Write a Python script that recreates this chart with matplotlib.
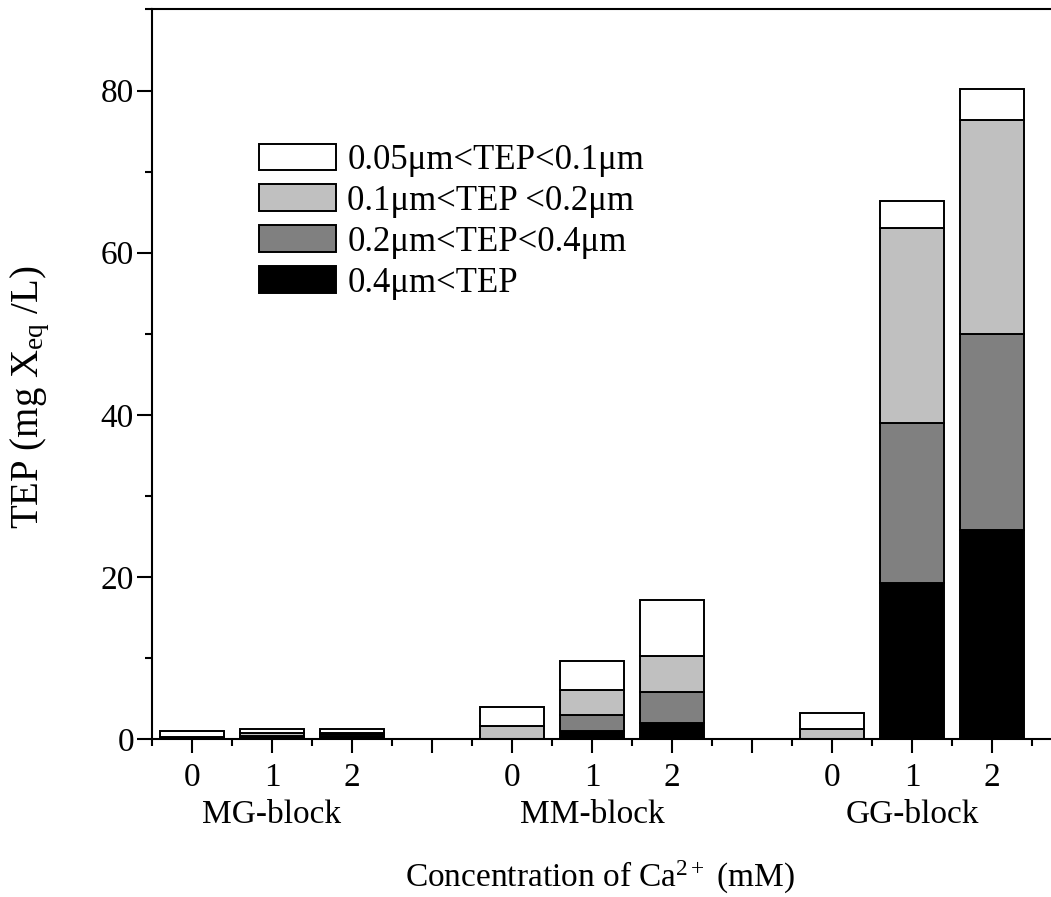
import numpy as np
import matplotlib
matplotlib.use('Agg')
import matplotlib.pyplot as plt
from matplotlib.ticker import MultipleLocator
from matplotlib.transforms import blended_transform_factory

plt.rcParams['font.family'] = 'Liberation Serif'
plt.rcParams['mathtext.fontset'] = 'custom'
plt.rcParams['mathtext.rm'] = 'Liberation Serif'
plt.rcParams['mathtext.it'] = 'Liberation Serif:italic'

## data (mg Xeq/L), order: MG 0,1,2 / MM 0,1,2 / GG 0,1,2
groups = ['MG-block', 'MM-block', 'GG-block']
ca_levels = ['0', '1', '2']
size_labels = ['0.05\u03bcm<TEP<0.1\u03bcm', '0.1\u03bcm<TEP <0.2\u03bcm',
               '0.2\u03bcm<TEP<0.4\u03bcm', '0.4\u03bcm<TEP']
tep_04 = [0.0, 0.2, 0.4, 0.0, 1.0, 2.0, 0.0, 19.3, 25.8]
tep_02_04 = [0.0, 0.2, 0.2, 0.0, 1.9, 3.8, 0.0, 19.7, 24.2]
tep_01_02 = [0.2, 0.3, 0.2, 1.6, 3.2, 4.4, 1.2, 24.0, 26.4]
tep_005_01 = [0.8, 0.5, 0.4, 2.4, 3.5, 6.9, 2.0, 3.4, 3.8]

colors = ['white', '#c0c0c0', '#808080', 'black']

fig = plt.figure(figsize=(10.51, 8.97), dpi=100)
ax = fig.add_axes([152/1051, 158/897, 920/1051, 729.5/897])

pos = np.array([4*g + i + 0.5 for g in range(len(groups)) for i in range(len(ca_levels))])
layers = [tep_04, tep_02_04, tep_01_02, tep_005_01]
layer_cols = colors[::-1]
bottom = np.zeros(len(pos))
bars = []
for vals, c in zip(layers, layer_cols):
    b = ax.bar(pos, vals, width=0.8, bottom=bottom, color=c, edgecolor='black', linewidth=1.4)
    bars.append(b)
    bottom += np.array(vals)

ax.set_xlim(0, 11.5)
ax.set_ylim(0, 90)

ax.spines['right'].set_visible(False)
for s in ['left', 'bottom', 'top']:
    ax.spines[s].set_linewidth(1.5)

ax.yaxis.set_major_locator(MultipleLocator(20))
ax.yaxis.set_minor_locator(MultipleLocator(10))
xticks = np.arange(0.5, 11, 1)
xlabels = ((ca_levels + [''])*3)[:len(xticks)]
ax.set_xticks(xticks)
ax.set_xticklabels(xlabels)
ax.set_xticks(np.arange(0, 12, 1), minor=True)
ax.tick_params(axis='both', which='major', direction='out', width=1.5, labelsize=24)
ax.tick_params(axis='y', which='major', length=11, pad=2)
ax.tick_params(axis='x', which='major', length=10, pad=7)
ax.tick_params(axis='both', which='minor', direction='out', width=1.5, length=5)
ax.tick_params(top=False, right=False, which='both')

trans = blended_transform_factory(ax.transData, ax.transAxes)
for g, name in enumerate(groups):
    ax.text(4*g + 1.5, -0.104, name, transform=trans, ha='center', va='center', fontsize=24)

fig.text(600/1051, 1 - 877/897, 'Concentration of Ca$^{\\mathregular{2+}}$ (mM)', ha='center', va='center',
         fontsize=24)
fig.text(30/1051, 1 - 397/897, 'TEP (mg X$_{\\mathregular{eq}}$ /L)', ha='center', va='center',
         rotation=90, fontsize=28)

ax.legend(bars[::-1], size_labels, loc='upper left', bbox_to_anchor=(107/920, 1 - 134/729.5),
          frameon=False, fontsize=25, handlelength=2.22, handleheight=0.8,
          handletextpad=0.32, labelspacing=0.22, borderaxespad=0, borderpad=0)

fig.savefig('out.png', dpi=100, facecolor='white')
